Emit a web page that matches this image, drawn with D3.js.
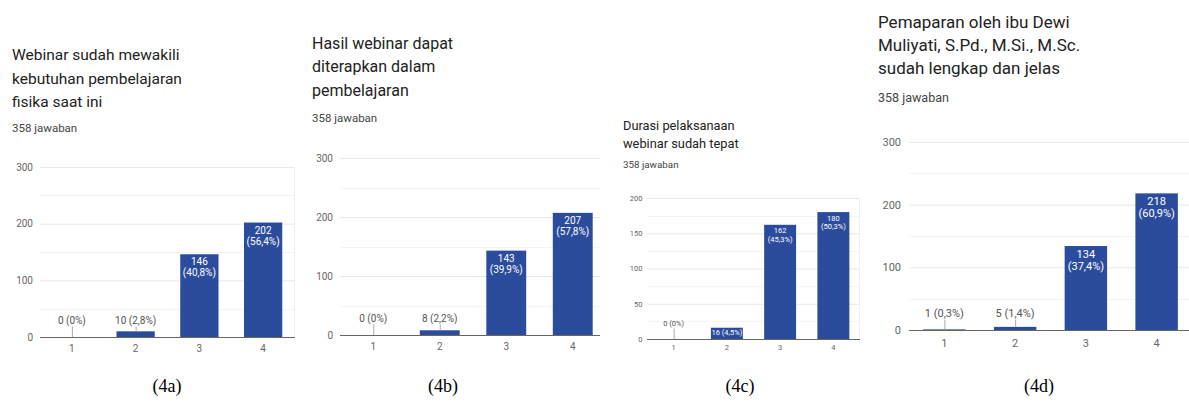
<!DOCTYPE html>
<html>
<head>
<meta charset="utf-8">
<script src="https://cdn.jsdelivr.net/npm/d3@7"></script>
<style>
	body { margin: 0; background: #fff; }
	svg { display: block; }
	.title { font-family: Roboto, "Noto Sans", sans-serif; fill: #222; }
	.sub { font-family: Roboto, "Noto Sans", sans-serif; fill: #444; }
	.tick text { font-family: Roboto, "Noto Sans", sans-serif; fill: #666; }
	.caption { font-family: "Liberation Serif", "DejaVu Serif", serif; fill: #000; }
</style>
</head>
<body>
<div id="chart"></div>
<script>

// answers (scale 1..4)
var categories = ["1", "2", "3", "4"];

// (4a) Webinar sudah mewakili kebutuhan pembelajaran fisika saat ini
var titleA = ["Webinar sudah mewakili", "kebutuhan pembelajaran", "fisika saat ini"];
var valuesA = [0, 10, 146, 202];
var pctA = ["0%", "2,8%", "40,8%", "56,4%"];

// (4b) Hasil webinar dapat diterapkan dalam pembelajaran
var titleB = ["Hasil webinar dapat", "diterapkan dalam", "pembelajaran"];
var valuesB = [0, 8, 143, 207];
var pctB = ["0%", "2,2%", "39,9%", "57,8%"];

// (4c) Durasi pelaksanaan webinar sudah tepat
var titleC = ["Durasi pelaksanaan", "webinar sudah tepat"];
var valuesC = [0, 16, 162, 180];
var pctC = ["0%", "4,5%", "45,3%", "50,3%"];

// (4d) Pemaparan oleh ibu Dewi Muliyati ...
var titleD = ["Pemaparan oleh ibu Dewi", "Muliyati, S.Pd., M.Si., M.Sc.", "sudah lengkap dan jelas"];
var valuesD = [1, 5, 134, 218];
var pctD = ["0,3%", "1,4%", "37,4%", "60,9%"];

var ticks300 = [0, 100, 200, 300];
var ticks200 = [0, 50, 100, 150, 200];
var subtitle = "358 jawaban";
var captions = ["(4a)", "(4b)", "(4c)", "(4d)"];

var W = 1189, H = 403;
var barColor = "#2b4c9c";

var svg = d3.select("#chart").append("svg")
	.attr("width", W)
	.attr("height", H);

// layout of each panel (positions only)
var panels = [
	{ title: titleA, values: valuesA, pct: pctA, ticks: ticks300,
	  tx: 12, ty: 60, lh: 23.5, tfs: 15.5, sy: 132, sfs: 11.5,
	  x0: 40, x1: 295, y0: 337, y1: 167, fs: 10, clip: null, cap: 167 },
	{ title: titleB, values: valuesB, pct: pctB, ticks: ticks300,
	  tx: 312, ty: 48.5, lh: 23.5, tfs: 16, sy: 122, sfs: 11.5,
	  x0: 340, x1: 606, y0: 335, y1: 158, fs: 10, clip: [300, 600], cap: 443 },
	{ title: titleC, values: valuesC, pct: pctC, ticks: ticks200,
	  tx: 623, ty: 129.5, lh: 18, tfs: 12.8, sy: 167.5, sfs: 9.8,
	  x0: 647, x1: 860, y0: 339, y1: 198, fs: 7.5, clip: null, cap: 740 },
	{ title: titleD, values: valuesD, pct: pctD, ticks: ticks300,
	  tx: 878, ty: 28, lh: 23.2, tfs: 17, sy: 101.5, sfs: 12.5,
	  x0: 909, x1: 1192, y0: 330, y1: 142, fs: 11, clip: null, cap: 1039 }
];

panels.forEach(function(p, k) {
	var g = svg.append("g");

	if (p.clip) {
		svg.append("clipPath").attr("id", "clip" + k)
			.append("rect").attr("x", p.clip[0]).attr("y", 0)
			.attr("width", p.clip[1] - p.clip[0]).attr("height", H);
		g.attr("clip-path", "url(#clip" + k + ")");
	}

	// title + subtitle
	g.selectAll("text.title").data(p.title).enter().append("text")
		.attr("class", "title")
		.attr("x", p.tx)
		.attr("y", function(d, i) { return p.ty + i * p.lh; })
		.style("font-size", p.tfs + "px")
		.text(function(d) { return d; });

	g.append("text").attr("class", "sub")
		.attr("x", p.tx).attr("y", p.sy)
		.style("font-size", p.sfs + "px")
		.text(subtitle);

	var yMax = p.ticks[p.ticks.length - 1];
	var step = p.ticks[1] - p.ticks[0];

	var x = d3.scaleBand()
		.domain(categories)
		.range([p.x0, p.x1])
		.paddingInner(0.4)
		.paddingOuter(0.2);

	var y = d3.scaleLinear()
		.domain([0, yMax])
		.range([p.y0, p.y1]);

	// minor gridlines
	var minor = d3.range(step / 2, yMax, step);
	g.selectAll("line.minor").data(minor).enter().append("line")
		.attr("x1", p.x0).attr("x2", p.x1)
		.attr("y1", function(d) { return Math.round(y(d)) + 0.5; })
		.attr("y2", function(d) { return Math.round(y(d)) + 0.5; })
		.attr("stroke", "#f4f4f4");

	// y axis with gridlines
	var yAxis = g.append("g")
		.attr("transform", "translate(" + p.x0 + ",0)")
		.call(d3.axisLeft(y).tickValues(p.ticks).tickSize(-(p.x1 - p.x0)).tickPadding(p.fs - 3));
	yAxis.select(".domain").remove();
	yAxis.selectAll(".tick line").attr("stroke", "#e8e8e8");
	yAxis.selectAll(".tick text").style("font-size", p.fs + "px");

	// right border of plot
	g.append("line")
		.attr("x1", p.x1 - 0.5).attr("x2", p.x1 - 0.5)
		.attr("y1", p.y1).attr("y2", p.y0)
		.attr("stroke", "#f0f0f0");

	// bars
	g.selectAll("rect.bar").data(p.values).enter().append("rect")
		.attr("class", "bar")
		.attr("x", function(d, i) { return x(categories[i]); })
		.attr("width", x.bandwidth())
		.attr("y", function(d) { return y(d); })
		.attr("height", function(d) { return p.y0 - y(d); })
		.attr("fill", barColor);

	// baseline
	g.append("line")
		.attr("x1", p.x0).attr("x2", p.x1)
		.attr("y1", p.y0 + 0.5).attr("y2", p.y0 + 0.5)
		.attr("stroke", "#666").attr("stroke-width", 1.2);

	// x axis labels
	var xAxis = g.append("g")
		.attr("transform", "translate(0," + p.y0 + ")")
		.call(d3.axisBottom(x).tickSize(0).tickPadding(p.fs - 2));
	xAxis.select(".domain").remove();
	xAxis.selectAll(".tick text").style("font-size", p.fs + "px");

	// value labels
	p.values.forEach(function(v, i) {
		var cx = x(categories[i]) + x.bandwidth() / 2;
		var top = y(v);
		var h = p.y0 - top;
		if (h >= 28) {
			g.append("text").attr("x", cx).attr("y", top + p.fs + 1)
				.attr("text-anchor", "middle").attr("fill", "#fff")
				.style("font-family", "Roboto, sans-serif").style("font-size", p.fs + "px")
				.text(v);
			g.append("text").attr("x", cx).attr("y", top + 2 * p.fs + 2)
				.attr("text-anchor", "middle").attr("fill", "#fff")
				.style("font-family", "Roboto, sans-serif").style("font-size", p.fs + "px")
				.text("(" + p.pct[i] + ")");
		} else if (h >= p.fs + 3) {
			g.append("text").attr("x", cx).attr("y", top + p.fs)
				.attr("text-anchor", "middle").attr("fill", "#fff")
				.style("font-family", "Roboto, sans-serif").style("font-size", p.fs + "px")
				.text(v + " (" + p.pct[i] + ")");
		} else {
			var ly = p.y0 - 13.5;
			g.append("line")
				.attr("x1", cx + 0.5).attr("x2", cx + 0.5)
				.attr("y1", ly + 3).attr("y2", top)
				.attr("stroke", "#aaa");
			g.append("text").attr("x", cx).attr("y", ly)
				.attr("text-anchor", "middle").attr("fill", "#555")
				.style("font-family", "Roboto, sans-serif").style("font-size", p.fs + "px")
				.text(v + " (" + p.pct[i] + ")");
		}
	});

	// caption
	svg.append("text").attr("class", "caption")
		.attr("x", p.cap).attr("y", 392)
		.attr("text-anchor", "middle")
		.style("font-size", "18px")
		.text(captions[k]);
});

</script>
</body>
</html>
